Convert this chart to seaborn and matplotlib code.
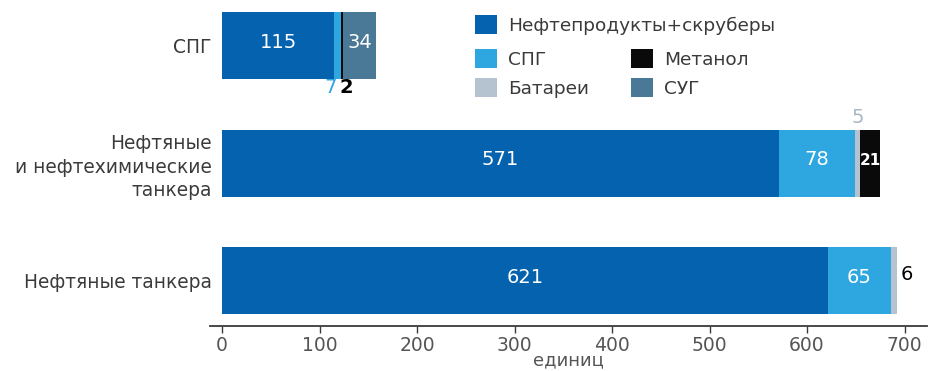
import numpy as np
import pandas as pd
import seaborn as sns
import matplotlib.pyplot as plt
from matplotlib.patches import Patch

# Vessel types (top to bottom) and fleet composition by fuel type, units
categories = ["СПГ", "Нефтяные\nи нефтехимические\nтанкера", "Нефтяные танкера"]
series = ["Нефтепродукты+скруберы", "СПГ", "Батареи", "Метанол", "СУГ"]
oil_scrubbers = [115, 571, 621]
lng = [7, 78, 65]
batteries = [0, 5, 6]
methanol = [2, 21, 0]
lpg = [34, 0, 0]
xticks = [0, 100, 200, 300, 400, 500, 600, 700]

colors = ["#0562AE", "#2EA7E0", "#B5C2D0", "#0A0A0A", "#4A7997"]
text_dark = "#3a3a3a"

sns.set_theme(style="white")
plt.rcParams["font.family"] = ["DejaVu Sans"]

fig = plt.figure(figsize=(9.35, 3.71), dpi=100)
ax = fig.add_axes([210 / 935, 45 / 371, 717 / 935, 326 / 371])

values = np.array([oil_scrubbers, lng, batteries, methanol, lpg])
cum = values.cumsum(axis=0)

# Stacked bars: draw cumulative totals from the outermost segment inward
df = pd.DataFrame({"category": categories})
for i in reversed(range(len(series))):
    df["total"] = cum[i]
    sns.barplot(data=df, x="total", y="category", orient="h", color=colors[i],
                width=0.57, saturation=1, errorbar=None, linewidth=0,
                edgecolor="none", ax=ax)

# Segment value labels
outside = {
    (0, 1): dict(dy=0.36, dx_pt=-5, color=colors[1], weight="normal"),
    (0, 3): dict(dy=0.36, dx_pt=3, color="black", weight="bold"),
    (1, 2): dict(dy=-0.385, dx_pt=0, color="#A9B8C8", weight="normal"),
}
for r in range(len(categories)):
    for s in range(len(series)):
        v = values[s, r]
        if v == 0:
            continue
        left = cum[s, r] - v
        mid = left + v / 2
        if (r, s) in outside:
            o = outside[(r, s)]
            ax.annotate(str(v), (mid, r + o["dy"]), xytext=(o["dx_pt"], 0),
                        textcoords="offset points", ha="center", va="center",
                        fontsize=14, color=o["color"], fontweight=o["weight"])
        elif r == 2 and s == 2:
            ax.annotate(str(v), (cum[s, r], r - 0.05), xytext=(3, 0),
                        textcoords="offset points", ha="left", va="center",
                        fontsize=14, color="black")
        elif v < 25:
            ax.text(mid, r - 0.02, str(v), ha="center", va="center",
                    fontsize=11, color="white", fontweight="bold")
        else:
            ax.text(mid, r - 0.03, str(v), ha="center", va="center",
                    fontsize=14, color="white")

ax.set_xlim(-12.3, 723)
ax.set_ylim(2.386, -0.389)
ax.set_xticks(xticks)
ax.set_xticklabels([str(t) for t in xticks])
ax.set_xlabel("единиц", fontsize=13, color="#555555", labelpad=-2.5)
ax.set_ylabel("")

for side in ["top", "right", "left"]:
    ax.spines[side].set_visible(False)
ax.spines["bottom"].set_color(text_dark)
ax.spines["bottom"].set_linewidth(1.3)
ax.tick_params(axis="x", bottom=True, direction="out", length=5, width=1,
               color=text_dark, labelsize=13.5, labelcolor="#555555", pad=2)
ax.tick_params(axis="y", left=False, length=0, labelsize=13.4,
               labelcolor=text_dark, pad=-1.2)
for lab in ax.get_yticklabels():
    lab.set_multialignment("right")
    lab.set_linespacing(1.3)

# Legend: first entry on its own row, the rest in two columns
handles = [Patch(facecolor=c, edgecolor="none") for c in colors]
common = dict(loc="upper left", frameon=False, fontsize=13.3,
              handlelength=1.19, handleheight=1.19, handletextpad=0.6,
              borderpad=0, borderaxespad=0, labelcolor=text_dark)
fig.legend([handles[0]], [series[0]], bbox_to_anchor=(475 / 935, 1 - 15 / 371),
           **common)
fig.legend(handles[1:], series[1:], ncol=2, bbox_to_anchor=(475 / 935, 1 - 49 / 371),
           labelspacing=0.5, columnspacing=2.3, **common)

fig.savefig("out.png", dpi=100)
